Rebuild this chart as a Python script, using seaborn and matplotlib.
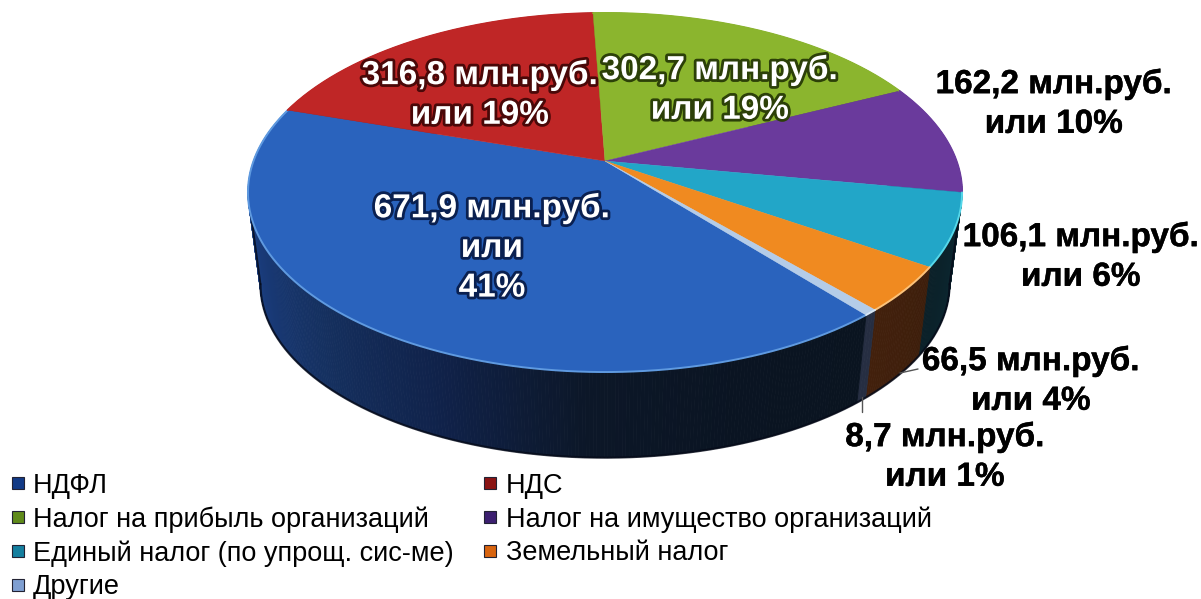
import numpy as np
import matplotlib
matplotlib.use("Agg")
import matplotlib.pyplot as plt
import matplotlib.patheffects as pe
from matplotlib.lines import Line2D
import seaborn as sns

# Chart data
names = ['НДФЛ', 'НДС', 'Налог на прибыль организаций', 'Налог на имущество организаций',
         'Единый налог (по упрощ. сис-ме)', 'Земельный налог', 'Другие']
values = [671.9, 316.8, 302.7, 162.2, 106.1, 66.5, 8.7]
percents = [41, 19, 19, 10, 6, 4, 1]

# Colours: top surface, rim highlight, side shading (along the clockwise sweep), legend box
top_colors = ['#2a63bd', '#bf2626', '#8bb52e', '#6a3a9c', '#22a6c8', '#f08a20', '#b4cce8']
rim_colors = ['#5f9ae0', '#bf2626', '#8bb52e', '#6a3a9c', '#55d8ea', '#fbc27a', '#d8e6f4']
side_colors = [['#0a1420', '#0a1422', '#0c1728', '#10224a', '#15305f', '#193a78', '#1e4a95', '#2560b0'],
               ['#5a1010', '#400c0c'], ['#3f5414', '#2c3a0e'], ['#2e1a48', '#1c1030'],
               ['#0c2a34', '#0b2028'], ['#3d1e0b', '#42200c'], ['#262e42', '#262e42']]
legend_colors = ['#123a86', '#8a1414', '#5f8a1a', '#3c1f70', '#157f9f', '#d8640f', '#7f9fd2']

# Label placement in picture pixels and text style
label_pos = [(492, 248), (480, 95), (720, 90), (1054, 104), (1081, 257), (1031, 381), (945, 457)]
label_color = ['white', 'white', 'white', 'black', 'black', 'black', 'black']
label_glow = ['#0a2050', '#4a0808', '#2c4008', None, None, None, None]

# Perspective of the pie disk
cx, cy = 605, 161
rx, ry = 351.5, 174
persp = 0.1755
depth, shrink = 93, 0.965
start_angle = -50

sns.set_theme(style='white')
plt.rcParams['font.family'] = ['Liberation Sans', 'DejaVu Sans']


def top_xy(theta):
    u, v = np.cos(theta), np.sin(theta)
    w = 1 + persp * v
    return cx + rx * u / w, cy - ry * v / w


def bottom_xy(theta):
    x, y = top_xy(theta)
    return cx + shrink * (x - cx), cy + depth + shrink * (y - cy)


fig = plt.figure(figsize=(12.01, 5.99), dpi=100)
ax = fig.add_axes([0, 0, 1, 1])
ax.set_xlim(0, 1201)
ax.set_ylim(599, 0)
ax.axis('off')

# Slices run clockwise from the start angle
shares = np.array(values) / sum(values) * 360
ends = start_angle - np.cumsum(shares)
starts = ends + shares

# Side walls first, far parts before near ones
quads = []
for i in range(len(values)):
    steps = max(int(shares[i] * 2), 2)
    angles = np.radians(np.linspace(starts[i], ends[i], steps + 1))
    shades = sns.blend_palette(side_colors[i], steps)
    for j in range(steps):
        a, b = angles[j], angles[j + 1]
        xa, ya = top_xy(a)
        xb, yb = top_xy(b)
        xc, yc = bottom_xy(b)
        xd, yd = bottom_xy(a)
        quads.append((ya + yb, [xa, xb, xc, xd], [ya, yb, yc, yd], shades[j]))

for _, xs, ys, col in sorted(quads, key=lambda q: q[0]):
    ax.fill(xs, ys, color=col, lw=0.6, zorder=2)

# Dark outline of the wall: bottom curve and the two side edges
near = np.radians(np.linspace(-170, -10, 200))
bx, by = bottom_xy(near)
ax.plot(bx, by, color='#050a18', lw=1.6, alpha=0.8, zorder=3)
for edge in np.radians([-170, -10]):
    tx, ty = top_xy(edge)
    ex, ey = bottom_xy(edge)
    ax.plot([tx, ex], [ty, ey], color='#050a18', lw=1.4, alpha=0.8, zorder=3)

# Top surface
for i in range(len(values)):
    angles = np.radians(np.linspace(starts[i], ends[i], max(int(shares[i] * 2), 2) + 1))
    x, y = top_xy(angles)
    ax.fill(np.r_[cx, x], np.r_[cy, y], color=top_colors[i], lw=0.3, zorder=4)
    ax.plot(x, y, color=rim_colors[i], lw=1.4, zorder=5)

# Labels
for i in range(len(values)):
    money = f'{values[i]:.1f}'.replace('.', ',') + ' млн.руб.'
    sep = '\nили\n' if i == 0 else '\nили '
    txt = ax.text(label_pos[i][0], label_pos[i][1], f'{money}{sep}{percents[i]}%',
                  ha='center', va='center', fontsize=24, fontweight='bold',
                  color=label_color[i], linespacing=1.36, zorder=7)
    if label_glow[i]:
        txt.set_path_effects([pe.withStroke(linewidth=4, foreground=label_glow[i])])
    else:
        txt.set_path_effects([pe.withStroke(linewidth=0.3, foreground='black')])

# Leader lines of the two small slices
ax.plot([918, 900], [369, 373], color='#555555', lw=1, zorder=6)
ax.plot([862, 862], [397, 412], color='#555555', lw=1, zorder=6)

# Legend
handles = [Line2D([], [], ls='', marker='s', ms=8.5, mfc=c, mec='#222233', mew=0.8) for c in legend_colors]
order = [0, 2, 4, 6, 1, 3, 5]
leg = ax.legend([handles[i] for i in order], [names[i] for i in order], ncol=2, frameon=False,
                fontsize=19.5, loc='lower left', bbox_to_anchor=(0.001, -0.007), borderaxespad=0,
                borderpad=0.1, handletextpad=0.04, handlelength=1.03, labelspacing=0.28, columnspacing=0.85)
for t in leg.get_texts():
    t.set_color('black')

plt.savefig('out.png', dpi=100)
